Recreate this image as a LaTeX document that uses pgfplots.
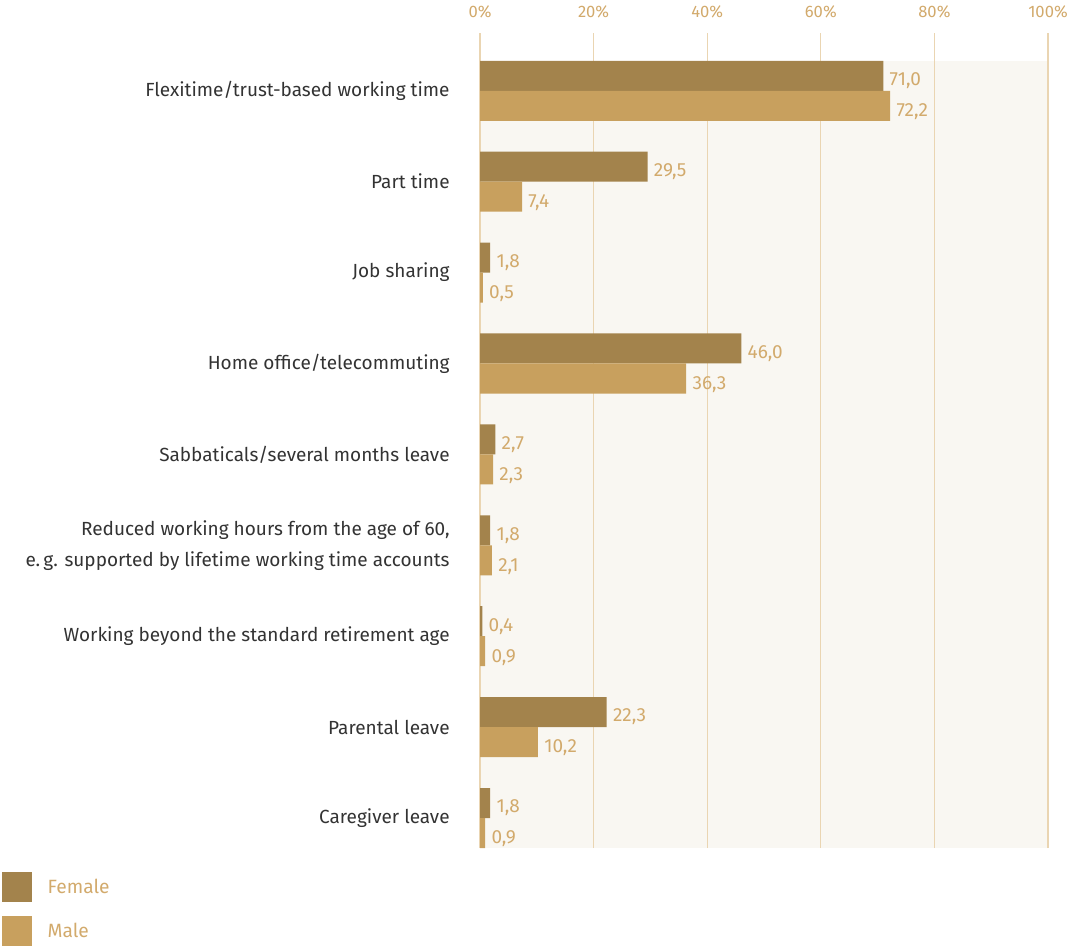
\documentclass[border=0pt]{standalone}
\usepackage{pgfplots}
\pgfplotsset{compat=1.18}
\usepackage{fontspec}
\setmainfont{Fira Sans}
\definecolor{femalec}{HTML}{A3834C}
\definecolor{malec}{HTML}{C8A05E}
\definecolor{goldtext}{HTML}{D2AA6C}
\definecolor{gridc}{HTML}{EAD5B2}
\definecolor{creambg}{HTML}{F9F7F2}
\definecolor{labelc}{HTML}{333333}

\begin{document}
\begin{tikzpicture}
\begin{axis}[
    set layers,
    at={(240pt,50pt)}, anchor=south west,
    scale only axis,
    width=284pt, height=407.5pt,
    bar width=15pt,
    xmin=0, xmax=100,
    ymin=-0.33, ymax=8.636,
    axis line style={draw=none},
    xmajorgrids, grid style={gridc, line width=0.6pt},
    xtick={0,20,40,60,80,100},
    xticklabels={0\%,20\%,40\%,60\%,80\%,100\%},
    xticklabel pos=top,
    xticklabel style={font=\fontsize{8.3}{9}\selectfont, text=goldtext, yshift=4pt},
    ytick={0,...,8},
    yticklabels={Caregiver leave,Parental leave,Working beyond the standard retirement age,{Reduced working hours from the age of 60,\\e.\,g. supported by lifetime working time accounts},Sabbaticals/several months leave,Home office/telecommuting,Job sharing,Part time,Flexitime/trust-based working time},
    yticklabel style={font=\fontsize{9.5}{15.5}\selectfont, text=labelc, align=right, inner sep=0pt, xshift=-15pt},
    major tick length=0pt,
    legend style={at={(-0.843,-0.0294)}, anchor=north west, draw=none, fill=none, inner sep=0pt,
        row sep=7pt, font=\fontsize{9.6}{10}\selectfont, text=goldtext,
        /tikz/every odd column/.append style={column sep=6pt}},
    legend cell align=left,
]
% cream plot background
\addplot[fill=creambg, draw=none, on layer=axis background, forget plot]
    coordinates {(0,-0.33) (100,-0.33) (100,8.33) (0,8.33)} -- cycle;
\addplot[xbar, fill=femalec, draw=none, bar shift=7.5pt,
    legend image code/.code={\fill[femalec] (0pt,-7.5pt) rectangle (15pt,7.5pt);},
    nodes near coords={\pgfmathprintnumber[fixed,fixed zerofill,precision=1,use comma,assume math mode=true]{\pgfplotspointmeta}},
    every node near coord/.append style={font=\fontsize{9.5}{10}\selectfont, text=goldtext, anchor=west, inner sep=0pt, xshift=3pt, yshift=5pt}]
    coordinates {
    (1.8,0) (22.3,1) (0.4,2) (1.8,3) (2.7,4) (46.0,5) (1.8,6) (29.5,7) (71.0,8)
};
\addlegendentry{Female}
\addplot[xbar, fill=malec, draw=none, bar shift=-7.5pt,
    legend image code/.code={\fill[malec] (0pt,-7.5pt) rectangle (15pt,7.5pt);},
    nodes near coords={\pgfmathprintnumber[fixed,fixed zerofill,precision=1,use comma,assume math mode=true]{\pgfplotspointmeta}},
    every node near coord/.append style={font=\fontsize{9.5}{10}\selectfont, text=goldtext, anchor=west, inner sep=0pt, xshift=3pt, yshift=-10.5pt}]
    coordinates {
    (0.9,0) (10.2,1) (0.9,2) (2.1,3) (2.3,4) (36.3,5) (0.5,6) (7.4,7) (72.2,8)
};
\addlegendentry{Male}
\end{axis}
\pgfresetboundingbox
\path[use as bounding box] (0,0) rectangle (535pt,474pt);
\end{tikzpicture}
\end{document}
